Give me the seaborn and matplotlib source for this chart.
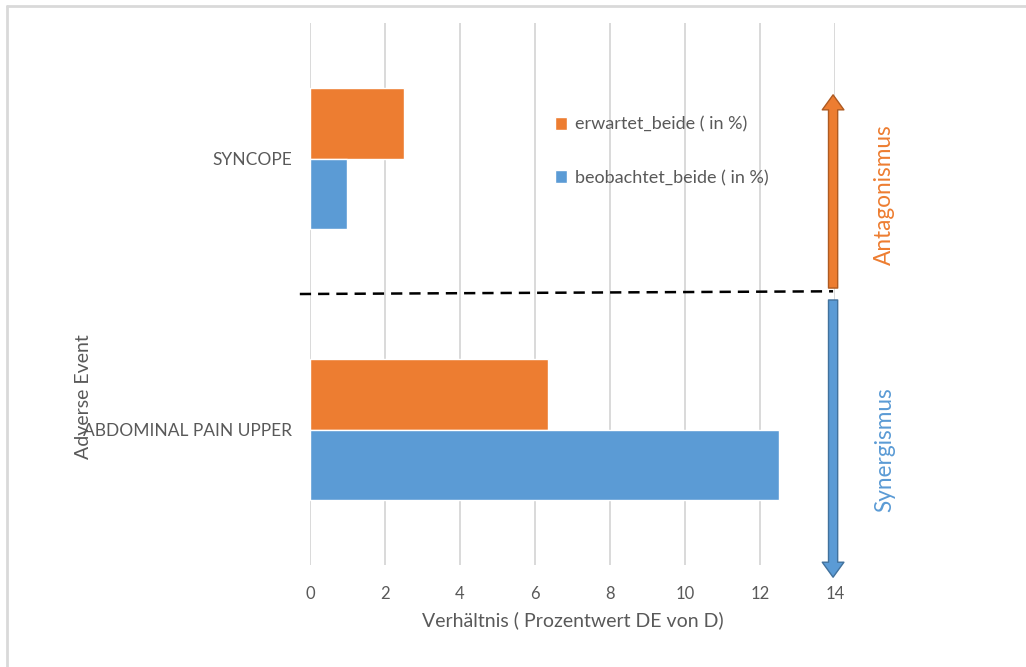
import numpy as np
import pandas as pd
import matplotlib.pyplot as plt
from matplotlib.lines import Line2D
import seaborn as sns

## data
events = ['SYNCOPE', 'ABDOMINAL PAIN UPPER']
series = ['erwartet_beide ( in %)', 'beobachtet_beide ( in %)']
erwartet = [2.5, 6.35]
beobachtet = [1.0, 12.5]
x_ticks = [0, 2, 4, 6, 8, 10, 12, 14]

orange = '#ED7D31'
blue = '#5B9BD5'
grey_txt = '#595959'
grid_col = '#D9D9D9'

df = pd.DataFrame({
    'event': events * 2,
    'serie': [series[0]] * 2 + [series[1]] * 2,
    'value': erwartet + beobachtet,
})

sns.set_theme(style='white')
plt.rcParams['font.family'] = ['Lato', 'DejaVu Sans']

fig = plt.figure(figsize=(10.26, 6.67), dpi=100)
ax = fig.add_axes([0.3021, 0.1529, 0.5117, 0.8126])

sns.barplot(data=df, x='value', y='event', hue='serie', order=events,
            hue_order=series, palette=[orange, blue], orient='h',
            width=0.517, saturation=1, ax=ax, zorder=3)

ax.set_xlim(0, 14)
ax.set_ylim(1.5, -0.5)
ax.set_xticks(x_ticks)
ax.grid(axis='x', color=grid_col, linewidth=1.4, zorder=0)
ax.grid(axis='y', visible=False)
for s in ax.spines.values():
    s.set_visible(False)
ax.tick_params(axis='both', length=0, labelcolor=grey_txt, labelsize=12)
ax.tick_params(axis='x', pad=15)
ax.tick_params(axis='y', labelsize=12.5, pad=13)

ax.set_xlabel('Verhältnis ( Prozentwert DE von D)', color=grey_txt, fontsize=14, labelpad=7)
ax.set_ylabel('Adverse Event', color=grey_txt, fontsize=14)
ax.yaxis.set_label_coords(-0.415, 0.31)

# legend
handles, labels = ax.get_legend_handles_labels()
ax.legend(handles, labels, loc='upper left', bbox_to_anchor=(0.435, 0.857),
          frameon=False, fontsize=13, labelcolor=grey_txt,
          handlelength=0.7, handleheight=0.7, handletextpad=0.45,
          labelspacing=2.05)

# separator between synergism and antagonism
ax.plot([-0.27, 13.95], [0.5, 0.49], color='black', linestyle=(0, (4.5, 2.8)),
        linewidth=1.8, clip_on=False, zorder=4)

# arrows
ax.annotate('', xy=(13.95, -0.235), xytext=(13.95, 0.478), annotation_clip=False,
            arrowprops=dict(arrowstyle='simple,head_length=0.9,head_width=1.3,tail_width=0.55',
                            fc=orange, ec='#AE5A21', lw=1, mutation_scale=12,
                            shrinkA=0, shrinkB=0))
ax.annotate('', xy=(13.95, 1.545), xytext=(13.95, 0.522), annotation_clip=False,
            arrowprops=dict(arrowstyle='simple,head_length=0.9,head_width=1.3,tail_width=0.55',
                            fc=blue, ec='#41719C', lw=1, mutation_scale=12,
                            shrinkA=0, shrinkB=0))

ax.text(15.33, 0.135, 'Antagonismus', rotation=90, color=orange, fontsize=16.3,
        ha='center', va='center', clip_on=False)
ax.text(15.33, 1.076, 'Synergismus', rotation=90, color=blue, fontsize=16.3,
        ha='center', va='center', clip_on=False)

# chart frame (left and top edge)
fig.add_artist(Line2D([0.0073, 0.0073], [0.0, 0.991], color=grid_col, linewidth=2))
fig.add_artist(Line2D([0.0073, 1.0], [0.991, 0.991], color=grid_col, linewidth=2))

plt.savefig('out.png', dpi=100)
